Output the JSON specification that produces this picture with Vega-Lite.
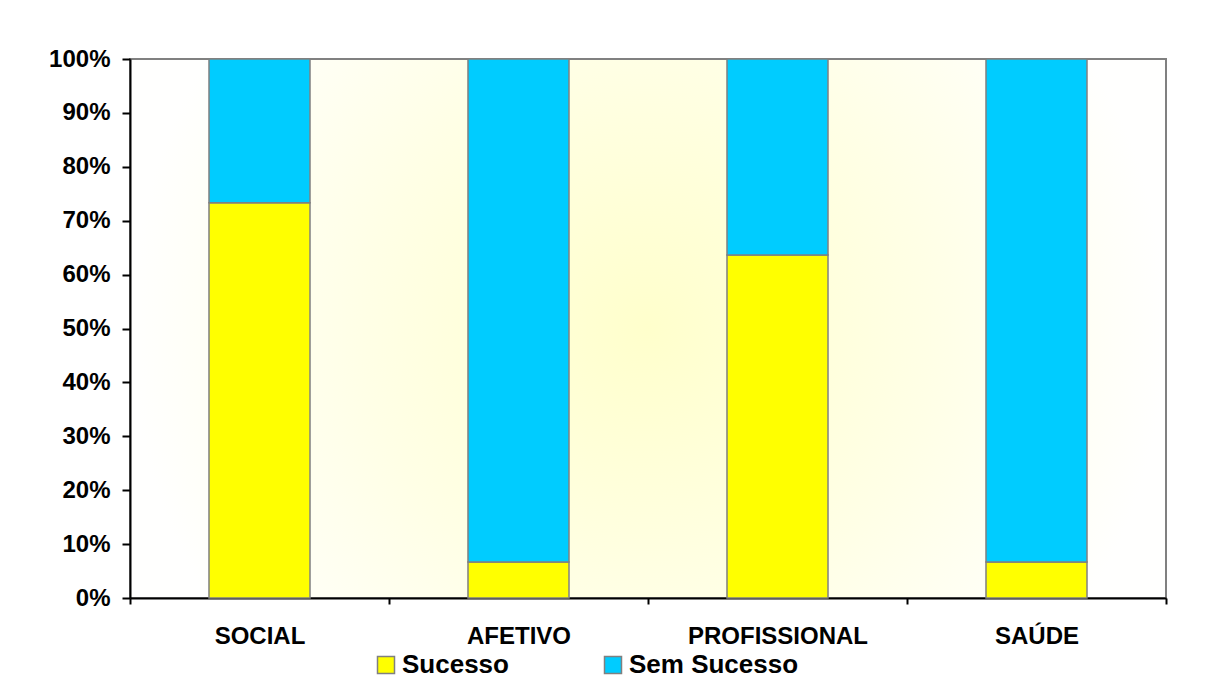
{
  "$schema": "https://vega.github.io/schema/vega-lite/v6.json",
  "width": 1036,
  "height": 539,
  "autosize": {"type": "none"},
  "padding": {"left": 130, "top": 59, "right": 42, "bottom": 81},
  "background": "#FFFFFF",
  "config": {
    "font": "Liberation Sans",
    "view": {
      "stroke": "#808080",
      "strokeWidth": 2,
      "fill": {
        "gradient": "radial",
        "x1": 0.5, "y1": 0.5, "r1": 0,
        "x2": 0.5, "y2": 0.5, "r2": 0.5,
        "stops": [
          {"offset": 0, "color": "#FFFFCC"},
          {"offset": 0.55, "color": "#FFFFE6"},
          {"offset": 1, "color": "#FFFFFE"}
        ]
      }
    }
  },
  "data": {
    "values": [
      {"categoria": "SOCIAL", "resultado": "Sucesso", "ordem": 1, "n": 11},
      {"categoria": "SOCIAL", "resultado": "Sem Sucesso", "ordem": 2, "n": 4},
      {"categoria": "AFETIVO", "resultado": "Sucesso", "ordem": 1, "n": 1},
      {"categoria": "AFETIVO", "resultado": "Sem Sucesso", "ordem": 2, "n": 14},
      {"categoria": "PROFISSIONAL", "resultado": "Sucesso", "ordem": 1, "n": 7},
      {"categoria": "PROFISSIONAL", "resultado": "Sem Sucesso", "ordem": 2, "n": 4},
      {"categoria": "SAÚDE", "resultado": "Sucesso", "ordem": 1, "n": 1},
      {"categoria": "SAÚDE", "resultado": "Sem Sucesso", "ordem": 2, "n": 14}
    ]
  },
  "mark": {"type": "bar", "width": {"band": 0.39}, "stroke": "#808080", "strokeWidth": 1.5},
  "encoding": {
    "x": {
      "field": "categoria",
      "type": "nominal",
      "sort": ["SOCIAL", "AFETIVO", "PROFISSIONAL", "SAÚDE"],
      "scale": {"paddingInner": 0, "paddingOuter": 0},
      "axis": {
        "title": null,
        "labelAngle": 0,
        "labelFont": "Liberation Sans",
        "labelFontWeight": "bold",
        "labelFontSize": 24,
        "labelColor": "#000000",
        "labelPadding": 20,
        "labelLimit": 400,
        "tickBand": "extent",
        "tickSize": 6,
        "tickWidth": 2,
        "tickColor": "#000000",
        "domainColor": "#000000",
        "domainWidth": 2,
        "grid": false
      }
    },
    "y": {
      "field": "n",
      "type": "quantitative",
      "stack": "normalize",
      "scale": {"domain": [0, 1], "nice": false},
      "axis": {
        "title": null,
        "values": [0, 0.1, 0.2, 0.3, 0.4, 0.5, 0.6, 0.7, 0.8, 0.9, 1],
        "format": ".0%",
        "labelFont": "Liberation Sans",
        "labelFontWeight": "bold",
        "labelFontSize": 24,
        "labelColor": "#000000",
        "labelPadding": 12,
        "tickSize": 8,
        "tickWidth": 2,
        "tickColor": "#000000",
        "domainColor": "#000000",
        "domainWidth": 2,
        "grid": false
      }
    },
    "color": {
      "field": "resultado",
      "type": "nominal",
      "scale": {"domain": ["Sucesso", "Sem Sucesso"], "range": ["#FFFF00", "#00CCFF"]},
      "legend": {
        "title": null,
        "orient": "none",
        "direction": "horizontal",
        "legendX": 243,
        "legendY": 593,
        "symbolType": "square",
        "symbolSize": 289,
        "symbolStrokeColor": "#808080",
        "symbolStrokeWidth": 1.5,
        "symbolOpacity": 1,
        "labelFont": "Liberation Sans",
        "labelFontWeight": "bold",
        "labelFontSize": 26,
        "labelColor": "#000000",
        "labelOffset": 3,
        "labelLimit": 400,
        "columnPadding": 91
      }
    },
    "order": {"field": "ordem", "type": "quantitative"}
  }
}
